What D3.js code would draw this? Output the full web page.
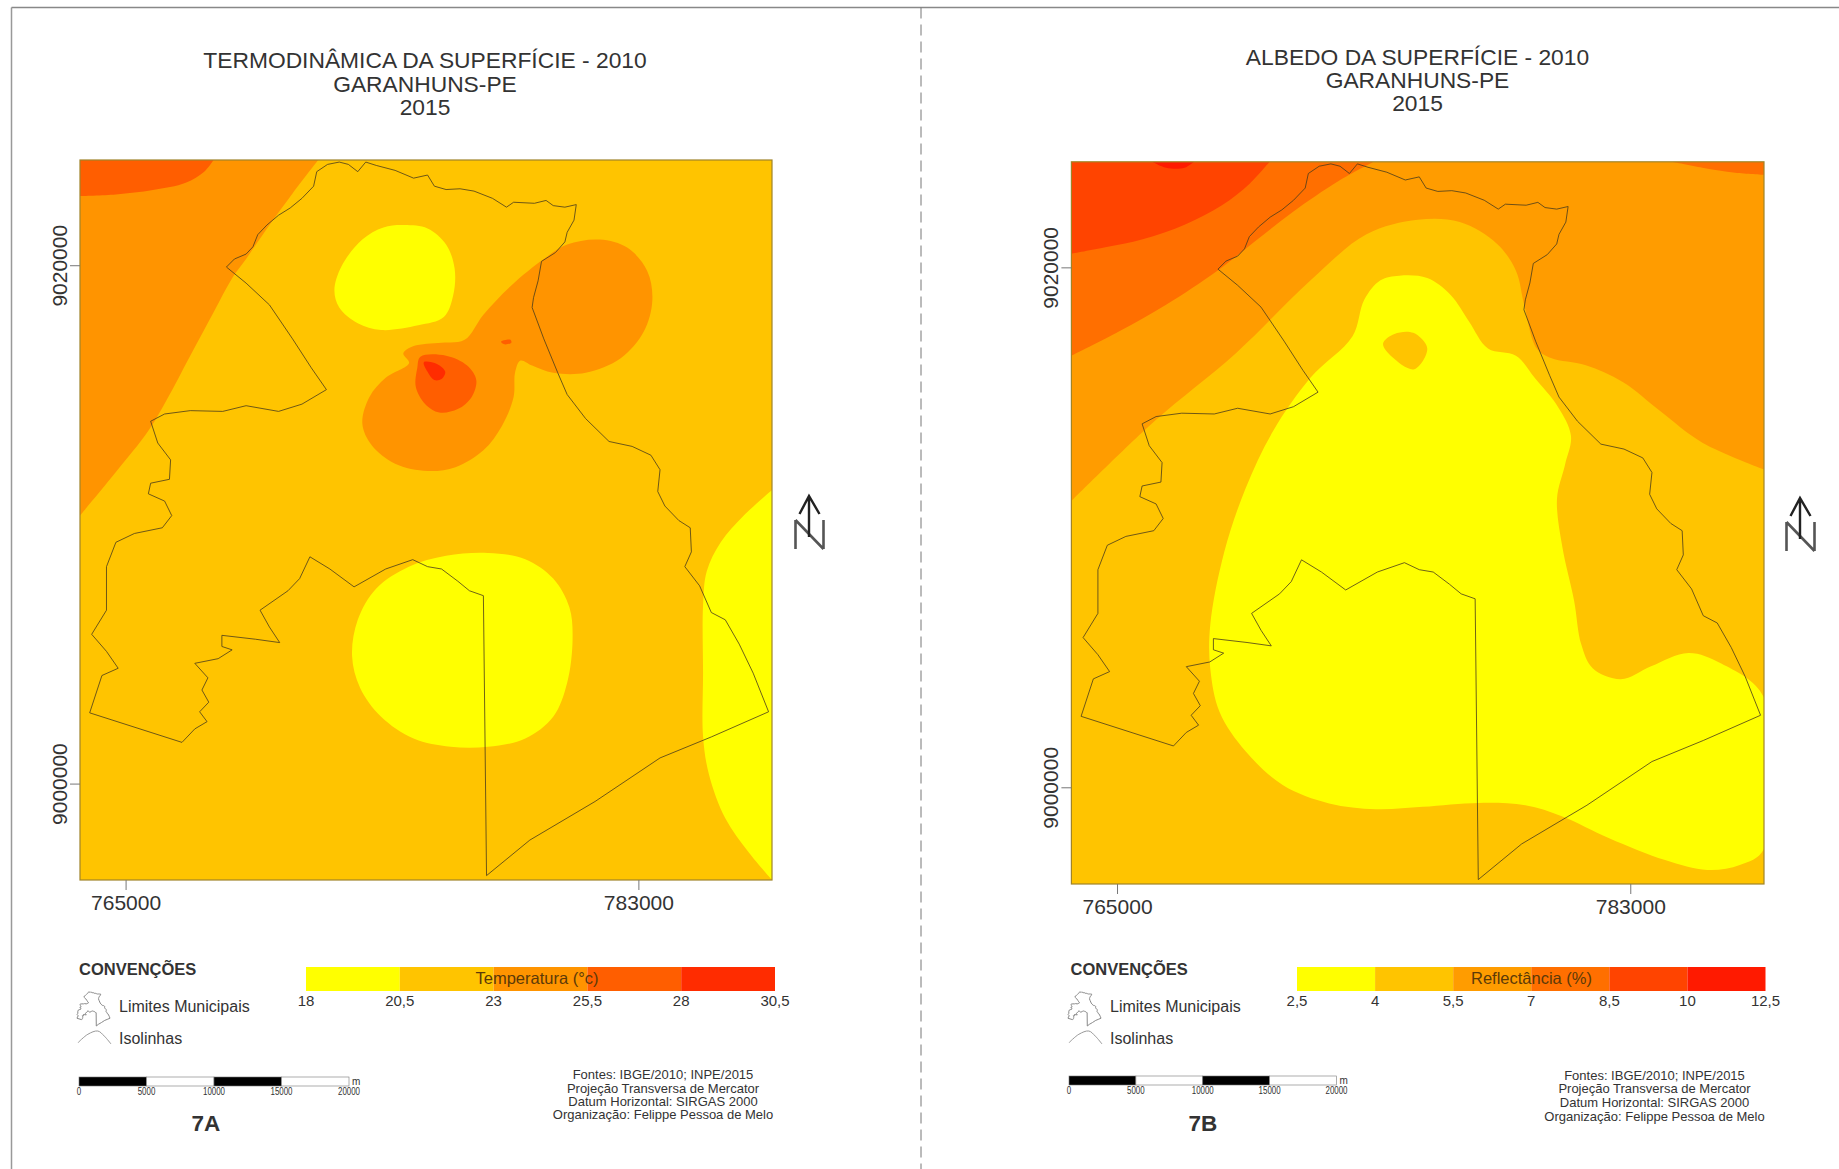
<!DOCTYPE html>
<html>
<head>
<meta charset="utf-8">
<script src="https://cdn.jsdelivr.net/npm/d3@7"></script>
<style>
  body { margin: 0; background: #fff; }
  text { font-family: "Liberation Sans", Arial, sans-serif; fill: #333; }
</style>
</head>
<body>
<svg id="canvas" width="1839" height="1169"></svg>
<script>
// map extent and grid ticks, UTM metres
const eastExtent = [763400, 787690]
const northExtent = [8996280, 9024060]
const eastTicks = [765000, 783000]
const northTicks = [9000000, 9020000]

// legend classes
const tempTicks = ["18", "20,5", "23", "25,5", "28", "30,5"]
const tempColors = ["#ffff00", "#ffc400", "#ff9400", "#ff5e00", "#ff2c00"]
const albedoTicks = ["2,5", "4", "5,5", "7", "8,5", "10", "12,5"]
const albedoColors = ["#ffff00", "#ffc400", "#ff9c00", "#ff6f00", "#ff4400", "#ff1a00"]
const scaleBarStops = [0, 5000, 10000, 15000, 20000]

// municipal limit of Garanhuns
const municipalLimit = [
  [768540,9019930],[768820,9020240],[769230,9020430],[769470,9020710],[769640,9021180],[769960,9021550],
  [770370,9021930],[770780,9022210],[771190,9022580],[771600,9023050],[771710,9023610],[772090,9023890],
  [772500,9023980],[772820,9023890],[773150,9023610],[773430,9023980],[773800,9023850],[774460,9023660],
  [775110,9023360],[775600,9023480],[775840,9023050],[776250,9022920],[776740,9022950],[777230,9022860],
  [777880,9022580],[778370,9022240],[778620,9022430],[779350,9022390],[779760,9022500],[780010,9022300],
  [780420,9022240],[780820,9022340],[780740,9021740],[780500,9021270],[780420,9020900],[780090,9020490],
  [779600,9020150],[779480,9019400],[779320,9018750],[779270,9018370],[779680,9017160],[780170,9015850],
  [780500,9015010],[781150,9014080],[781970,9013200],[782780,9013010],[783440,9012670],[783760,9012110],
  [783680,9011270],[783930,9010710],[784420,9010150],[784820,9009870],[784860,9008940],[784630,9008370],
  [785150,9007630],[785560,9006600],[786050,9006320],[786540,9005380],[787030,9004260],[787570,9002770],
  [785560,9001800],[783760,9000990],[781480,8999310],[779190,8997820],[777670,8996450],[777560,9007250],
  [777070,9007440],[776660,9007810],[776090,9008280],[775600,9008370],[775080,9008640],[774130,9008280],
  [773020,9007590],[772170,9008280],[771470,9008750],[771110,9007910],[770700,9007440],[769720,9006690],
  [770050,9006040],[770410,9005440],[769560,9005570],[768380,9005720],[768380,9005290],[768740,9005160],
  [768250,9004820],[767430,9004640],[767890,9004080],[767680,9003610],[767920,9003140],[767600,9002770],
  [767860,9002390],[767430,9002110],[766980,9001590],[763740,9002730],[764170,9004170],[764740,9004450],
  [764330,9005100],[763810,9005760],[764330,9006690],[764330,9008370],[764660,9009310],[765310,9009650],
  [766290,9009870],[766620,9010340],[766370,9010900],[765800,9011180],[765880,9011590],[766540,9011740],
  [766580,9012490],[766130,9013140],[765880,9013980],[766370,9014260],[767270,9014390],[768410,9014360],
  [769230,9014580],[770370,9014360],[771190,9014640],[772050,9015200],[771520,9016040],[770860,9017160],
  [770050,9018470],[769230,9019310]
]

// temperature isolines (7A)
const tempNorthWest = [[771760,9024060],[770860,9022770],[770050,9021550],[769230,9020240],[768740,9019500],[768090,9018190],[767270,9016510],[766450,9014820],[765800,9013610],[764660,9012020],[763400,9010340]]
const tempCorner = [[768090,9024060],[767760,9023610],[767110,9023180],[765960,9022900],[764660,9022730],[763400,9022670]]
const tempYellowNorth = [[774780,9021550],[775600,9021420],[776250,9020800],[776550,9019870],[776500,9018840],[776170,9018000],[775270,9017680],[773970,9017500],[773150,9017760],[772500,9018370],[772330,9019030],[772580,9019960],[773310,9020990],[774050,9021460]]
const tempYellowSouth = [[777720,9008900],[779030,9008660],[780010,9007910],[780580,9006790],[780690,9005570],[780500,9003890],[780010,9002580],[779030,9001740],[777720,9001420],[776410,9001420],[775110,9001740],[773970,9002580],[773230,9003700],[772950,9004920],[773150,9006320],[773800,9007530],[774940,9008370],[776250,9008790]]
const tempYellowEast = [[787690,9011330],[786700,9010340],[785890,9009310],[785400,9008190],[785270,9006880],[785270,9004260],[785270,9001830],[785480,9000340],[786050,8998660],[786870,8997350],[787690,8996280]]
const tempCentre = [[781640,9020990],[782620,9020670],[783310,9019780],[783490,9018650],[783190,9017440],[782380,9016410],[781150,9015850],[780010,9015850],[779270,9016130],[778860,9016320],[778670,9015850],[778620,9014920],[778210,9013800],[777560,9012860],[776580,9012210],[775600,9012060],[774460,9012340],[773640,9013050],[773310,9013890],[773560,9014920],[774130,9015660],[774950,9016230],[774750,9016600],[775110,9016880],[776090,9017010],[776900,9017120],[777560,9018090],[778540,9019220],[779680,9020240],[780500,9020800]]
const tempHotCore = [[775350,9016470],[776250,9016510],[776990,9016130],[777310,9015570],[777150,9014920],[776660,9014450],[776010,9014320],[775520,9014640],[775190,9015290],[775240,9016040]]
const tempPeak = [[775470,9016260],[775930,9016190],[776220,9015890],[776090,9015610],[775840,9015570],[775600,9015890]]
const tempSpot = [[778180,9017050],[778510,9017120],[778540,9017010],[778290,9016950]]

// albedo isolines (7B)
const albedoNorth = [[763400,9011010],[766310,9014080],[769170,9016700],[771790,9019500],[773750,9021270],[775550,9021830],[777020,9021740],[778330,9020900],[778990,9019870],[779280,9018560],[779720,9016880],[780220,9016510],[781440,9016230],[782750,9015580],[784060,9014460],[785530,9013250],[787690,9012220]]
const albedoNorthWest = [[774000,9024060],[772770,9023320],[771140,9022110],[769830,9020990],[768520,9019870],[766720,9018560],[765080,9017540],[763400,9016600]]
const albedoNorthEast = [[784470,9024060],[785530,9023830],[786680,9023640],[787690,9023560]]
const albedoCorner = [[770350,9024060],[769660,9023230],[768680,9022390],[767370,9021640],[765900,9021080],[764590,9020770],[763400,9020520]]
const albedoPeak = [[766230,9024060],[766720,9023830],[767370,9023830],[767700,9024060]]
const albedoLow = [[774900,9019680],[775880,9019590],[776700,9018940],[777350,9017910],[778010,9016880],[778990,9016600],[779640,9015760],[780460,9014640],[780920,9013520],[780710,9012400],[780430,9011100],[780620,9009230],[781030,9007180],[781280,9005500],[781690,9004570],[782670,9004160],[783730,9004660],[785040,9005170],[786190,9004760],[787690,9003450],[787690,8997630],[786840,8997010],[785700,8996820],[784220,8997200],[782260,8998040],[780620,8998880],[779320,8999310],[777680,8999400],[775720,8999250],[774080,8999160],[772440,8999380],[770810,9000090],[769500,9001400],[768600,9002890],[768270,9004570],[768270,9006250],[768760,9009050],[769500,9011470],[770480,9013710],[771790,9015760],[773260,9017350],[773670,9018750],[774240,9019500]]
const albedoHole = [[774330,9017070],[774730,9017440],[775390,9017480],[775880,9016880],[775420,9016080],[774650,9016550]]

const svg = d3.select("#canvas")

// sheet border and the dashed divider
svg.append("line").attr("x1", 11.5).attr("x2", 11.5).attr("y1", 7.5).attr("y2", 1169).attr("stroke", "#999").attr("stroke-width", 1.5)
svg.append("line").attr("x1", 11.5).attr("x2", 1839).attr("y1", 7.5).attr("y2", 7.5).attr("stroke", "#888").attr("stroke-width", 1.5)
svg.append("line").attr("x1", 921).attr("x2", 921).attr("y1", 7.5).attr("y2", 1169).attr("stroke", "#777").attr("stroke-width", 1).attr("stroke-dasharray", "11,6")

const drawPanel = (p) => {
  const g = svg.append("g")
  const x = d3.scaleLinear().domain(eastExtent).range(p.xRange)
  const y = d3.scaleLinear().domain(northExtent).range(p.yRange)

  const smooth = d3.line().x(d => x(d[0])).y(d => y(d[1])).curve(d3.curveCatmullRom)
  const blob = d3.line().x(d => x(d[0])).y(d => y(d[1])).curve(d3.curveCatmullRomClosed)
  const straight = d3.line().x(d => x(d[0])).y(d => y(d[1]))

  // title
  p.title.forEach((t, i) => {
    g.append("text").attr("x", p.titleX).attr("y", p.titleY[i]).attr("text-anchor", "middle")
      .attr("font-size", 22.8).text(t)
  })

  // isoline bands, clipped on the map frame
  g.append("clipPath").attr("id", p.id).append("rect")
    .attr("x", p.xRange[0]).attr("y", p.yRange[1])
    .attr("width", p.xRange[1] - p.xRange[0]).attr("height", p.yRange[0] - p.yRange[1])
  const map = g.append("g").attr("clip-path", `url(#${p.id})`)
  map.append("rect")
    .attr("x", p.xRange[0]).attr("y", p.yRange[1])
    .attr("width", p.xRange[1] - p.xRange[0]).attr("height", p.yRange[0] - p.yRange[1])
    .attr("fill", p.colors[1])
  p.bands.forEach(b => {
    // open edges run frame to frame, then close over the given corners
    const d = b.corners
      ? smooth(b.edge) + "L" + straight(b.corners).slice(1) + "Z"
      : blob(b.edge)
    map.append("path").attr("d", d).attr("fill", p.colors[b.cls])
  })
  map.append("path").attr("d", straight(municipalLimit) + "Z")
    .attr("fill", "none").attr("stroke", "#4a3c1c").attr("stroke-width", 1).attr("stroke-opacity", 0.8)

  g.append("rect")
    .attr("x", p.xRange[0]).attr("y", p.yRange[1])
    .attr("width", p.xRange[1] - p.xRange[0]).attr("height", p.yRange[0] - p.yRange[1])
    .attr("fill", "none").attr("stroke", "#a08428").attr("stroke-width", 1.2)

  // grid ticks
  const axisX = g.append("g").attr("transform", `translate(0,${p.yRange[0]})`)
    .call(d3.axisBottom(x).tickValues(eastTicks).tickSize(10).tickPadding(5).tickFormat(d3.format("d")))
  const axisY = g.append("g").attr("transform", `translate(${p.xRange[0]},0)`)
    .call(d3.axisLeft(y).tickValues(northTicks).tickSize(10).tickFormat(d3.format("d")))
  axisX.select(".domain").remove()
  axisY.select(".domain").remove()
  axisX.selectAll("line").attr("stroke", "#777")
  axisY.selectAll("line").attr("stroke", "#777")
  axisX.selectAll("text").attr("font-size", 21).attr("font-family", "Liberation Sans").attr("fill", "#333")
  axisY.selectAll("text").attr("font-size", 21).attr("font-family", "Liberation Sans").attr("fill", "#333")
    .attr("text-anchor", "middle").attr("dy", 0).attr("x", 0)
    .attr("transform", "translate(-13,0) rotate(-90)")

  // north arrow
  const n = g.append("g").attr("transform", `translate(${p.northX},${p.northY})`).attr("fill", "none")
  n.append("path").attr("d", "M0,24V53M0,24L28,53M28,24V53").attr("stroke", "#555").attr("stroke-width", 2.6)
  n.append("path").attr("d", "M13.5,0V41M4,18L13.5,0L24,18").attr("stroke", "#222").attr("stroke-width", 2.4)

  // legend
  g.append("text").attr("x", p.legendX).attr("y", 975).attr("font-size", 16.5).attr("font-weight", "bold").attr("fill", "#222").text("CONVENÇÕES")

  const iconX = d3.scaleLinear().domain(d3.extent(municipalLimit, d => d[0])).range([p.iconX, p.iconX + 33])
  const iconY = d3.scaleLinear().domain(d3.extent(municipalLimit, d => d[1])).range([1026, 992])
  g.append("path").attr("d", d3.line().x(d => iconX(d[0])).y(d => iconY(d[1]))(municipalLimit) + "Z")
    .attr("fill", "#fff").attr("stroke", "#888").attr("stroke-width", 1)
  g.append("text").attr("x", p.iconX + 42).attr("y", 1012).attr("font-size", 16).text("Limites Municipais")

  const isoX = d3.scaleLinear().domain([0, 1]).range([p.iconX + 1, p.iconX + 34])
  const isoY = d3.scaleLinear().domain([0, 1]).range([1044, 1031])
  g.append("path").attr("d", d3.line().x(d => isoX(d[0])).y(d => isoY(d[1])).curve(d3.curveCatmullRom)([[0, 0.1], [0.3, 0.75], [0.6, 1], [0.8, 0.6], [1, 0]]))
    .attr("fill", "none").attr("stroke", "#999").attr("stroke-width", 1)
  g.append("text").attr("x", p.iconX + 42).attr("y", 1044).attr("font-size", 16).text("Isolinhas")

  // colour ramp
  const ramp = d3.scalePoint().domain(p.ticks).range(p.rampRange)
  g.selectAll(".swatch").data(p.colors).enter().append("rect")
    .attr("class", "swatch")
    .attr("x", (c, i) => ramp(p.ticks[i]))
    .attr("y", 967)
    .attr("width", (c, i) => ramp(p.ticks[i + 1]) - ramp(p.ticks[i]))
    .attr("height", 24)
    .attr("fill", c => c)
  g.selectAll(".ramp-label").data(p.ticks).enter().append("text")
    .attr("class", "ramp-label")
    .attr("x", d => ramp(d)).attr("y", 1006).attr("text-anchor", "middle").attr("font-size", 15).text(d => d)
  g.append("text").attr("x", p.rampTitleX).attr("y", 984).attr("text-anchor", "middle")
    .attr("font-size", 16.5).style("fill", "#5c3a08").text(p.rampTitle)

  // scale bar
  const bar = d3.scaleLinear().domain([0, 20000]).range(p.barRange)
  g.selectAll(".bar").data(d3.pairs(scaleBarStops)).enter().append("rect")
    .attr("class", "bar")
    .attr("x", d => bar(d[0])).attr("y", p.barY)
    .attr("width", d => bar(d[1]) - bar(d[0])).attr("height", 9)
    .attr("fill", (d, i) => i % 2 ? "#fff" : "#000")
    .attr("stroke", "#777").attr("stroke-width", 0.6)
  g.selectAll(".bar-label").data(scaleBarStops).enter().append("text")
    .attr("class", "bar-label")
    .attr("x", d => bar(d)).attr("y", p.barY + 18).attr("text-anchor", "middle").attr("font-size", 11)
    .text(d => d)
    .each(function () {
      d3.select(this).attr("textLength", this.getComputedTextLength() * 0.72).attr("lengthAdjust", "spacingAndGlyphs")
    })
  g.append("text").attr("x", p.barRange[1] + 3).attr("y", p.barY + 8).attr("font-size", 10).text("m")

  // plate id and credits
  g.append("text").attr("x", p.plateX).attr("y", 1131).attr("text-anchor", "middle")
    .attr("font-size", 22.5).attr("font-weight", "bold").attr("fill", "#222").text(p.plate)
  p.credits.forEach((t, i) => {
    g.append("text").attr("x", p.creditX).attr("y", p.creditY[i]).attr("text-anchor", "middle")
      .attr("font-size", 13).text(t)
  })
}

const credits = ["Fontes: IBGE/2010; INPE/2015", "Projeção Transversa de Mercator", "Datum Horizontal: SIRGAS 2000", "Organização: Felippe Pessoa de Melo"]

drawPanel({
  id: "clip-a",
  xRange: [80, 772], yRange: [880, 160],
  title: ["TERMODINÂMICA DA SUPERFÍCIE - 2010", "GARANHUNS-PE", "2015"],
  titleX: 425, titleY: [68, 92, 115],
  colors: tempColors, ticks: tempTicks,
  bands: [
    { edge: tempNorthWest, corners: [[eastExtent[0], northExtent[1]]], cls: 2 },
    { edge: tempCorner, corners: [[eastExtent[0], northExtent[1]]], cls: 3 },
    { edge: tempYellowNorth, cls: 0 },
    { edge: tempYellowSouth, cls: 0 },
    { edge: tempYellowEast, corners: [[eastExtent[1], northExtent[0]]], cls: 0 },
    { edge: tempCentre, cls: 2 },
    { edge: tempHotCore, cls: 3 },
    { edge: tempPeak, cls: 4 },
    { edge: tempSpot, cls: 3 }
  ],
  northX: 795.5, northY: 496,
  legendX: 79, iconX: 77,
  rampRange: [306, 775], rampTitle: "Temperatura (°c)", rampTitleX: 537,
  barRange: [79, 349], barY: 1077,
  plate: "7A", plateX: 206,
  credits: credits, creditX: 663, creditY: [1079, 1093, 1106, 1119]
})

drawPanel({
  id: "clip-b",
  xRange: [1071.4, 1764], yRange: [884, 161.8],
  title: ["ALBEDO DA SUPERFÍCIE - 2010", "GARANHUNS-PE", "2015"],
  titleX: 1417.5, titleY: [65, 88, 111],
  colors: albedoColors, ticks: albedoTicks,
  bands: [
    { edge: albedoNorth, corners: [[eastExtent[1], northExtent[1]], [eastExtent[0], northExtent[1]]], cls: 2 },
    { edge: albedoNorthWest, corners: [[eastExtent[0], northExtent[1]]], cls: 3 },
    { edge: albedoNorthEast, corners: [[eastExtent[1], northExtent[1]]], cls: 3 },
    { edge: albedoCorner, corners: [[eastExtent[0], northExtent[1]]], cls: 4 },
    { edge: albedoPeak, corners: [albedoPeak[0]], cls: 5 },
    { edge: albedoLow, cls: 0 },
    { edge: albedoHole, cls: 1 }
  ],
  northX: 1786.5, northY: 498,
  legendX: 1070.5, iconX: 1068,
  rampRange: [1297, 1765.5], rampTitle: "Reflectância (%)", rampTitleX: 1531.5,
  barRange: [1069, 1336.5], barY: 1076,
  plate: "7B", plateX: 1203,
  credits: credits, creditX: 1654.5, creditY: [1080, 1093, 1107, 1120.5]
})
</script>
</body>
</html>
